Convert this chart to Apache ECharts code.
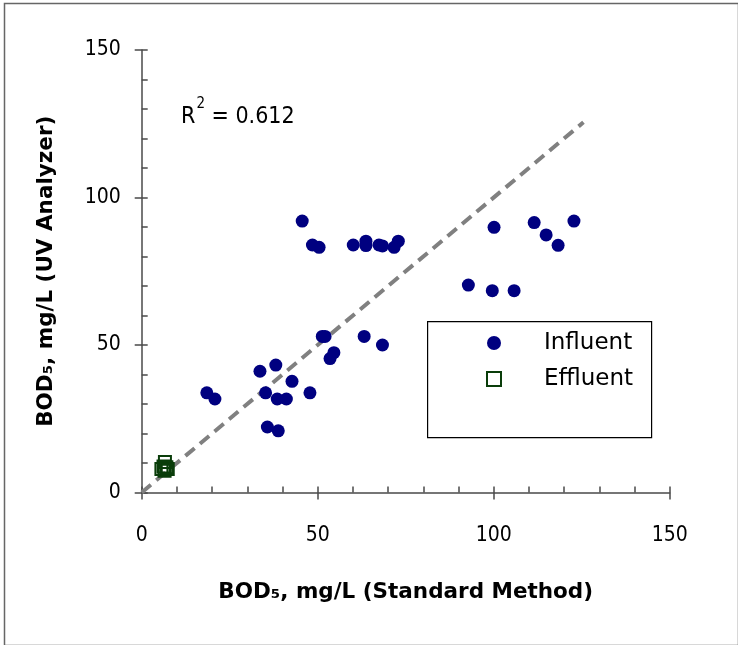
<!DOCTYPE html>
<html>
<head>
<meta charset="utf-8">
<script src="https://cdn.jsdelivr.net/npm/echarts@6/dist/echarts.min.js"></script>
<style>
  html, body { margin: 0; padding: 0; background: #ffffff; }
  #chart { width: 738px; height: 645px; }
</style>
</head>
<body>
<div id="chart"></div>
<script>
// BOD5 by standard method (x) vs UV analyzer (y)
const influentX = [45.6, 48.5, 50.4, 60.1, 63.7, 63.7, 67.4, 68.4, 71.7, 72.9,
                   51.3, 52.1, 63.2, 68.4, 54.6, 53.5, 33.6, 38.1, 42.7, 47.8,
                   35.2, 38.5, 41.1, 18.5, 20.8, 35.7, 38.8,
                   100.1, 111.5, 114.9, 118.3, 122.8, 92.8, 99.6, 105.8];
const influentY = [92.0, 83.9, 83.1, 83.9, 85.2, 83.7, 83.9, 83.6, 83.1, 85.2,
                   52.9, 52.9, 52.9, 50.0, 47.4, 45.4, 41.1, 43.2, 37.7, 33.8,
                   33.8, 31.7, 31.7, 33.8, 31.7, 22.2, 20.9,
                   89.9, 91.5, 87.3, 83.8, 92.0, 70.3, 68.4, 68.4];
const effluentX = [6.6, 5.6, 7.4, 6.5, 6.2, 7.0];
const effluentY = [10.3, 8.0, 8.0, 7.4, 8.8, 8.6];
const trendX = [0, 125.5];
const trendY = [0, 125.5];
const xTicks = [0, 50, 100, 150];
const yTicks = [0, 50, 100, 150];
const rSquared = '0.612';
const seriesNames = ['Influent', 'Effluent'];

const FONT = "'DejaVu Sans Condensed', 'DejaVu Sans', sans-serif";
const FONT_WIDE = "'DejaVu Sans', sans-serif";
const zip = (a, b) => a.map((v, i) => [v, b[i]]);

const chart = echarts.init(document.getElementById('chart'), null, { renderer: 'canvas' });

const axisColor = '#4a4a4a';
function mainAxis(ticks, extra) {
  return Object.assign({
    type: 'value',
    min: ticks[0],
    max: ticks[ticks.length - 1],
    interval: ticks[1] - ticks[0],
    axisLine: { show: true, onZero: false, lineStyle: { color: axisColor, width: 1.5 } },
    axisTick: { show: true, inside: false, length: 7, lineStyle: { color: axisColor, width: 1.5 } },
    minorTick: { show: false },
    splitLine: { show: false },
    axisLabel: { show: true, color: '#000', fontSize: 21, fontFamily: FONT }
  }, extra);
}
function innerAxis(ticks, extra) {
  return Object.assign({
    type: 'value',
    min: ticks[0],
    max: ticks[ticks.length - 1],
    interval: ticks[1] - ticks[0],
    axisLine: { show: false, onZero: false },
    axisTick: { show: true, inside: true, length: 6, lineStyle: { color: axisColor, width: 1.5 } },
    minorTick: { show: true, splitNumber: 5, length: 6, lineStyle: { color: axisColor, width: 1.5 } },
    splitLine: { show: false },
    minorSplitLine: { show: false },
    axisLabel: { show: false }
  }, extra);
}

const option = {
  backgroundColor: '#ffffff',
  animation: false,
  grid: { left: 141.7, right: 68.3, top: 50, bottom: 152.5, containLabel: false },
  xAxis: [
    mainAxis(xTicks, {
      position: 'bottom',
      name: 'BOD₅, mg/L (Standard Method)',
      nameLocation: 'middle',
      nameGap: 89,
      nameTextStyle: { color: '#000', fontSize: 21.5, fontWeight: 'bold', fontFamily: FONT_WIDE },
      axisLabel: { show: true, color: '#000', fontSize: 21, fontFamily: FONT, margin: 33 }
    }),
    innerAxis(xTicks, { position: 'bottom', offset: 0 })
  ],
  yAxis: [
    mainAxis(yTicks, {
      position: 'left',
      name: 'BOD₅, mg/L (UV Analyzer)',
      nameLocation: 'middle',
      nameGap: 84,
      nameTextStyle: { color: '#000', fontSize: 21.5, fontWeight: 'bold', fontFamily: FONT_WIDE },
      axisLabel: { show: true, color: '#000', fontSize: 21, fontFamily: FONT, margin: 21 }
    }),
    innerAxis(yTicks, { position: 'left', offset: 0 })
  ],
  legend: {
    show: true,
    orient: 'vertical',
    left: 486,
    top: 331,
    itemWidth: 14,
    itemHeight: 14,
    itemGap: 12,
    padding: 0,
    selectedMode: false,
    data: [
      { name: seriesNames[0], icon: 'circle', itemStyle: { color: '#000080' } },
      { name: seriesNames[1], icon: 'rect', itemStyle: { color: '#ffffff', borderColor: '#0a3d0a', borderWidth: 2 } }
    ],
    textStyle: { color: '#000', fontSize: 23, fontFamily: FONT_WIDE, lineHeight: 24, padding: [0, 0, 0, 38] }
  },
  graphic: [
    {
      type: 'rect', left: 2, top: 1, silent: true, z: -1,
      shape: { width: 734, height: 642 },
      style: { fill: 'none', stroke: '#666', lineWidth: 1.5 }
    },
    {
      type: 'rect', left: 427, top: 321, silent: true,
      shape: { width: 224, height: 116 },
      style: { fill: '#fff', stroke: '#000', lineWidth: 1.2 }
    },
    {
      type: 'text', left: 181, top: 97, silent: true,
      style: {
        text: '{a|R}{b|2}{a| = ' + rSquared + '}',
        rich: {
          a: { fontSize: 23, fontFamily: FONT, fill: '#000', lineHeight: 32, verticalAlign: 'bottom' },
          b: { fontSize: 15, fontFamily: FONT, fill: '#000', lineHeight: 32, verticalAlign: 'top', padding: [0, 0, 0, 1] }
        }
      }
    }
  ],
  series: [
    {
      name: 'Trend',
      type: 'line',
      xAxisIndex: 0, yAxisIndex: 0,
      data: zip(trendX, trendY),
      showSymbol: false,
      symbol: 'none',
      lineStyle: { color: '#808080', width: 4, type: [12, 7] },
      z: 3,
      silent: true
    },
    {
      name: seriesNames[0],
      type: 'scatter',
      xAxisIndex: 0, yAxisIndex: 0,
      data: zip(influentX, influentY),
      symbol: 'circle',
      symbolSize: 13,
      itemStyle: { color: '#000080', opacity: 1 },
      z: 4
    },
    {
      name: seriesNames[1],
      type: 'scatter',
      xAxisIndex: 0, yAxisIndex: 0,
      data: zip(effluentX, effluentY),
      symbol: 'rect',
      symbolSize: 12,
      itemStyle: { color: 'rgba(255,255,255,0)', borderColor: '#0a3d0a', borderWidth: 2, opacity: 1 },
      z: 5
    }
  ]
};
chart.setOption(option);
</script>
</body>
</html>
